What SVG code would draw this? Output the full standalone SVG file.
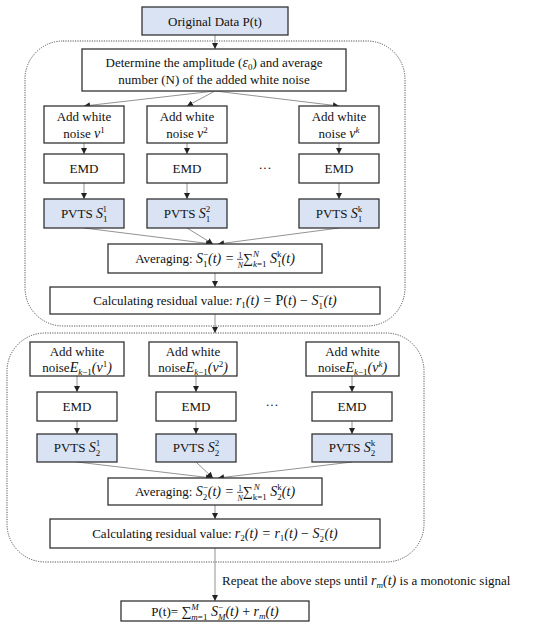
<svg xmlns="http://www.w3.org/2000/svg" width="550" height="636" viewBox="0 0 550 636">
<style>
text{font-family:"Liberation Serif","DejaVu Serif",serif;font-size:13px;fill:#111;text-anchor:middle}
.mi{font-style:italic;font-size:14px}
.s{font-size:9px}
.si{font-size:9px;font-style:italic}
.f{font-size:8px}
.box{fill:#fff;stroke:#333;stroke-width:1.3}
.blue{fill:#dae3f3;stroke:#333;stroke-width:1.3}
.dot{fill:none;stroke:#555;stroke-width:1;stroke-dasharray:1.2 1.2}
.c{fill:none;stroke:#777;stroke-width:0.8;marker-end:url(#ah)}
.bar{stroke:#111;stroke-width:0.7}
</style>
<defs>
<marker id="ah" viewBox="0 0 6 6" refX="6" refY="3" markerWidth="6" markerHeight="6" markerUnits="userSpaceOnUse" orient="auto">
<path d="M0,0 L6,3 L0,6 z" fill="#222"/>
</marker>
</defs>
<rect class="dot" x="25" y="41" width="380" height="285" rx="38"/>
<rect class="dot" x="7" y="333" width="417" height="229" rx="38"/>
<g id="connectors">
<path class="c" d="M215,35 V49"/>
<path class="c" d="M215,91 L84,106"/>
<path class="c" d="M215,91 L187,106"/>
<path class="c" d="M215,91 L339,106"/>
<path class="c" d="M84,143 V154"/>
<path class="c" d="M187,143 V154"/>
<path class="c" d="M339,143 V154"/>
<path class="c" d="M84,183 V199"/>
<path class="c" d="M187,183 V199"/>
<path class="c" d="M339,183 V199"/>
<path class="c" d="M84,228 L212,244"/>
<path class="c" d="M187,228 L213,244"/>
<path class="c" d="M339,228 L218,244"/>
<path class="c" d="M215,273 V287"/>
<path class="c" d="M215,314 V333"/>
<path class="c" d="M77,376 V392"/>
<path class="c" d="M196,376 V392"/>
<path class="c" d="M352,376 V392"/>
<path class="c" d="M77,421 V434"/>
<path class="c" d="M196,421 V434"/>
<path class="c" d="M352,421 V434"/>
<path class="c" d="M77,462 L212,478"/>
<path class="c" d="M196,462 L213,478"/>
<path class="c" d="M352,462 L218,478"/>
<path class="c" d="M215,505 V519"/>
<path class="c" d="M215,548 V601"/>
</g>
<g id="original">
<rect class="blue" x="142" y="7" width="146" height="28"/>
<text x="215" y="26">Original Data P(t)</text>
</g>
<g id="determine">
<rect class="box" x="82" y="49" width="264" height="42"/>
<text x="214" y="67">Determine the amplitude (<tspan class="mi">ε</tspan><tspan class="s" dy="3">0</tspan><tspan dy="-3">) and average</tspan></text>
<text x="214" y="84">number (N) of the added white noise</text>
</g>
<g id="add1">
<rect class="box" x="44" y="106" width="80" height="37"/>
<text x="84" y="121">Add white</text>
<text x="84" y="138">noise <tspan class="mi">v</tspan><tspan class="s" dy="-5">1</tspan></text>
</g>
<g id="add2">
<rect class="box" x="147" y="106" width="80" height="37"/>
<text x="187" y="121">Add white</text>
<text x="187" y="138">noise <tspan class="mi">v</tspan><tspan class="s" dy="-5">2</tspan></text>
</g>
<g id="add3">
<rect class="box" x="299" y="106" width="80" height="37"/>
<text x="339" y="121">Add white</text>
<text x="339" y="138">noise <tspan class="mi">v</tspan><tspan class="si" dy="-5">k</tspan></text>
</g>
<g id="emd1"><rect class="box" x="44" y="154" width="80" height="29"/><text x="84" y="173">EMD</text></g>
<g id="emd2"><rect class="box" x="147" y="154" width="80" height="29"/><text x="187" y="173">EMD</text></g>
<g id="emd3"><rect class="box" x="299" y="154" width="80" height="29"/><text x="339" y="173">EMD</text></g>
<text x="265" y="172">···</text>
<g id="pvts1"><rect class="blue" x="44" y="199" width="80" height="29"/>
<text x="84" y="218">PVTS <tspan class="mi">S</tspan><tspan class="s" dy="3.5">1</tspan><tspan class="s" dx="-4.5" dy="-10">1</tspan></text></g>
<g id="pvts2"><rect class="blue" x="147" y="199" width="80" height="29"/>
<text x="187" y="218">PVTS <tspan class="mi">S</tspan><tspan class="s" dy="3.5">1</tspan><tspan class="s" dx="-4.5" dy="-10">2</tspan></text></g>
<g id="pvtsk"><rect class="blue" x="299" y="199" width="80" height="29"/>
<text x="339" y="218">PVTS <tspan class="mi">S</tspan><tspan class="s" dy="3.5">1</tspan><tspan class="s" dx="-4.5" dy="-10">k</tspan></text></g>
<g id="avg1"><rect class="box" x="108" y="244" width="214" height="29"/>
<text x="215" y="263">Averaging: <tspan class="mi">S</tspan><tspan class="s" dy="3.5">1</tspan><tspan class="s" dx="-4.5" dy="-10">−</tspan><tspan class="mi" dy="6.5">(t) = </tspan><tspan class="f" dx="0.6" dy="-5.5">1</tspan><tspan class="f mi" dx="-4.6" dy="10">N</tspan><tspan class="mi" dy="-4.5">∑</tspan><tspan class="si" dy="3.5">k</tspan><tspan class="s">=1</tspan><tspan class="si" dx="-13.6" dy="-10">N</tspan><tspan class="mi" dx="7.6" dy="6.5"> S</tspan><tspan class="s" dy="3.5">1</tspan><tspan class="s" dx="-4.5" dy="-10">k</tspan><tspan class="mi" dy="6.5">(t)</tspan></text>
<line class="bar" x1="237" y1="259.3" x2="243" y2="259.3"/>
</g>
<g id="calc1"><rect class="box" x="50" y="287" width="330" height="27"/>
<text x="215" y="305">Calculating residual value: <tspan class="mi">r</tspan><tspan class="s" dy="3">1</tspan><tspan class="mi" dy="-3">(t) = </tspan><tspan font-size="14">P(</tspan><tspan class="mi">t</tspan><tspan font-size="14">) − </tspan><tspan class="mi">S</tspan><tspan class="s" dy="3.5">1</tspan><tspan class="s" dx="-4.5" dy="-10">−</tspan><tspan class="mi" dy="6.5">(t)</tspan></text></g>
<g id="add21"><rect class="box" x="30" y="342" width="94" height="34"/>
<text x="77" y="356">Add white</text>
<text x="77" y="372">noise<tspan class="mi">E</tspan><tspan class="si" dy="3">k</tspan><tspan class="s">−1</tspan><tspan class="mi" dy="-3">(v</tspan><tspan class="s" dy="-5">1</tspan><tspan class="mi" dy="5">)</tspan></text></g>
<g id="add22"><rect class="box" x="149" y="342" width="88" height="34"/>
<text x="193" y="356">Add white</text>
<text x="193" y="372">noise<tspan class="mi">E</tspan><tspan class="si" dy="3">k</tspan><tspan class="s">−1</tspan><tspan class="mi" dy="-3">(v</tspan><tspan class="s" dy="-5">2</tspan><tspan class="mi" dy="5">)</tspan></text></g>
<g id="add2k"><rect class="box" x="306" y="342" width="93" height="34"/>
<text x="352.5" y="356">Add white</text>
<text x="352.5" y="372">noise<tspan class="mi">E</tspan><tspan class="si" dy="3">k</tspan><tspan class="s">−1</tspan><tspan class="mi" dy="-3">(v</tspan><tspan class="si" dy="-5">k</tspan><tspan class="mi" dy="5">)</tspan></text></g>
<g id="emd21"><rect class="box" x="37" y="392" width="80" height="29"/><text x="77" y="411">EMD</text></g>
<g id="emd22"><rect class="box" x="156" y="392" width="80" height="29"/><text x="196" y="411">EMD</text></g>
<g id="emd2k"><rect class="box" x="312" y="392" width="80" height="29"/><text x="352" y="411">EMD</text></g>
<text x="272" y="409">···</text>
<g id="pvts21"><rect class="blue" x="37" y="434" width="80" height="28"/>
<text x="77" y="452">PVTS <tspan class="mi">S</tspan><tspan class="s" dy="3.5">2</tspan><tspan class="s" dx="-4.5" dy="-10">1</tspan></text></g>
<g id="pvts22"><rect class="blue" x="156" y="434" width="80" height="28"/>
<text x="196" y="452">PVTS <tspan class="mi">S</tspan><tspan class="s" dy="3.5">2</tspan><tspan class="s" dx="-4.5" dy="-10">2</tspan></text></g>
<g id="pvts2k"><rect class="blue" x="312" y="434" width="80" height="28"/>
<text x="352" y="452">PVTS <tspan class="mi">S</tspan><tspan class="s" dy="3.5">2</tspan><tspan class="s" dx="-4.5" dy="-10">k</tspan></text></g>
<g id="avg2"><rect class="box" x="108" y="478" width="214" height="27"/>
<text x="215" y="496">Averaging: <tspan class="mi">S</tspan><tspan class="s" dy="3.5">2</tspan><tspan class="s" dx="-4.5" dy="-10">−</tspan><tspan class="mi" dy="6.5">(t) = </tspan><tspan class="f" dx="0.6" dy="-5.5">1</tspan><tspan class="f mi" dx="-4.6" dy="10">N</tspan><tspan class="mi" dy="-4.5">∑</tspan><tspan class="s" dy="3.5">k=1</tspan><tspan class="si" dx="-13" dy="-10">N</tspan><tspan class="mi" dx="7" dy="6.5"> S</tspan><tspan class="s" dy="3.5">2</tspan><tspan class="s" dx="-4.5" dy="-10">k</tspan><tspan class="mi" dy="6.5">(t)</tspan></text>
<line class="bar" x1="237" y1="492.3" x2="243" y2="492.3"/>
</g>
<g id="calc2"><rect class="box" x="50" y="519" width="330" height="29"/>
<text x="215" y="538">Calculating residual value: <tspan class="mi">r</tspan><tspan class="s" dy="3">2</tspan><tspan class="mi" dy="-3">(t) = r</tspan><tspan class="s" dy="3">1</tspan><tspan class="mi" dy="-3">(t)</tspan><tspan font-size="14"> − </tspan><tspan class="mi">S</tspan><tspan class="s" dy="3.5">2</tspan><tspan class="s" dx="-4.5" dy="-10">−</tspan><tspan class="mi" dy="6.5">(t)</tspan></text></g>
<text x="222" y="585" style="text-anchor:start">Repeat the above steps until <tspan class="mi">r</tspan><tspan class="si" dy="3">m</tspan><tspan class="mi" dy="-3">(t)</tspan> is a monotonic signal</text>
<g id="final"><rect class="box" x="121" y="601" width="188" height="20"/>
<text x="215" y="616">P(t)= <tspan class="mi">∑</tspan><tspan class="si" dy="3.5">m</tspan><tspan class="s">=1</tspan><tspan class="si" dx="-16.1" dy="-10">M</tspan><tspan class="mi" dx="8.6" dy="6.5"> S</tspan><tspan class="si" dy="3.5">M</tspan><tspan class="s" dx="-7.5" dy="-10">−</tspan><tspan class="mi" dx="2.4" dy="6.5">(t)</tspan><tspan font-size="14"> + </tspan><tspan class="mi">r</tspan><tspan class="si" dy="3">m</tspan><tspan class="mi" dy="-3">(t)</tspan></text></g>
</svg>
